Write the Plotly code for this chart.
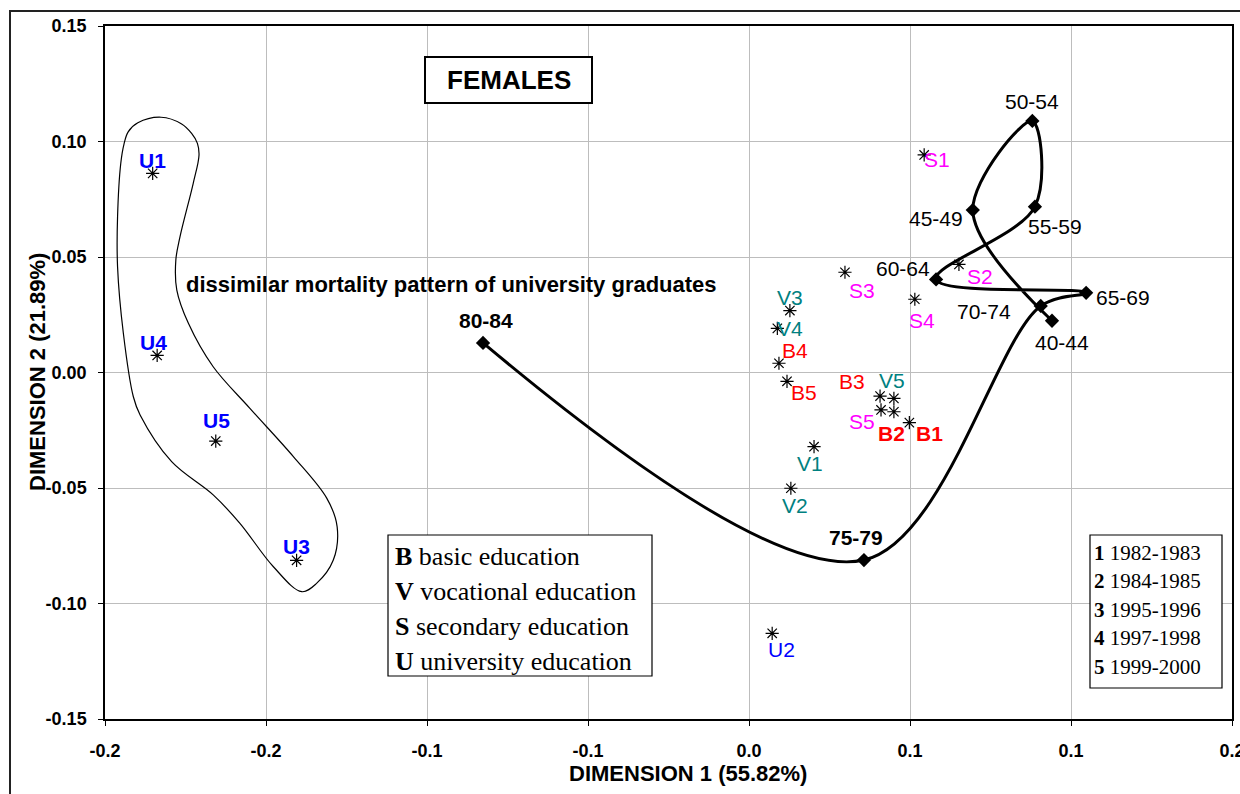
import plotly.graph_objects as go

# ---------------- data ----------------
age_groups = ["40-44", "45-49", "50-54", "55-59", "60-64", "65-69", "70-74", "75-79", "80-84"]
age_dim1 = [0.0941, 0.0695, 0.0880, 0.0888, 0.0581, 0.1047, 0.0906, 0.0357, -0.0826]
age_dim2 = [0.0224, 0.0703, 0.1089, 0.0718, 0.0403, 0.0345, 0.0288, -0.0812, 0.0128]

edu_codes = ["B1", "B2", "B3", "B4", "B5",
             "V1", "V2", "V3", "V4", "V5",
             "S1", "S2", "S3", "S4", "S5",
             "U1", "U2", "U3", "U4", "U5"]
edu_dim1 = [0.0498, 0.0450, 0.0407, 0.0093, 0.0118,
            0.0202, 0.0130, 0.0127, 0.0088, 0.0450,
            0.0544, 0.0652, 0.0298, 0.0515, 0.0410,
            -0.1852, 0.0072, -0.1405, -0.1838, -0.1656]
edu_dim2 = [-0.0217, -0.0170, -0.0102, 0.0040, -0.0038,
            -0.0321, -0.0501, 0.0268, 0.0191, -0.0112,
            0.0942, 0.0468, 0.0434, 0.0317, -0.0162,
            0.0862, -0.1129, -0.0813, 0.0074, -0.0297]

# outline around the university graduates (hand-drawn lasso)
lasso_dim1 = [-0.1826, -0.1898, -0.1928, -0.1941, -0.1951, -0.1961, -0.1961, -0.1943, -0.1912,
              -0.1891, -0.1793, -0.1664, -0.1581, -0.1477, -0.1389, -0.1343, -0.1291, -0.1279,
              -0.1311, -0.1415, -0.1550, -0.1664, -0.1741, -0.1777, -0.1780, -0.1767, -0.1726,
              -0.1708, -0.1713, -0.1731, -0.1762, -0.1826]
lasso_dim2 = [0.1105, 0.1081, 0.1042, 0.0989, 0.0906, 0.0674, 0.0458, 0.0170, -0.0105,
              -0.0184, -0.0386, -0.0530, -0.0653, -0.0841, -0.0949, -0.0913, -0.0812, -0.0668,
              -0.0545, -0.0364, -0.0155, 0.0025, 0.0213, 0.0357, 0.0487, 0.0588, 0.0819,
              0.0942, 0.0992, 0.1035, 0.1076, 0.1105]

x_tickvals = [-0.2, -0.15, -0.1, -0.05, 0.0, 0.05, 0.1, 0.15]
x_ticktext = ["-0.2", "-0.2", "-0.1", "-0.1", "0.0", "0.1", "0.1", "0.2"]
y_tickvals = [0.15, 0.10, 0.05, 0.0, -0.05, -0.10, -0.15]
y_ticktext = ["0.15", "0.10", "0.05", "0.00", "-0.05", "-0.10", "-0.15"]

edu_legend = [("B", "basic education"), ("V", "vocational education"),
              ("S", "secondary education"), ("U", "university education")]
period_legend = [("1", "1982-1983"), ("2", "1984-1985"), ("3", "1995-1996"),
                 ("4", "1997-1998"), ("5", "1999-2000")]

# ---------------- styling ----------------
W, H = 1240, 794
L, R, T, B = 105, 8, 26, 75
XR = [-0.2, 0.15]
YR = [-0.15, 0.15]
SANS = "Liberation Sans, Arial, sans-serif"
SERIF = "Liberation Serif, Times New Roman, serif"

group_color = {"B": "#FF0000", "V": "#008080", "S": "#FF00FF", "U": "#0000FF"}
bold_codes = {"B1", "B2", "U1", "U3", "U4", "U5"}
bold_ages = {"75-79", "80-84"}

# label offsets in pixels (dx right, dy down)
edu_off = {"B1": (20, 11), "B2": (-2, 22), "B3": (-28, -15), "B4": (16, -13), "B5": (17, 11),
           "V1": (-4, 17), "V2": (4, 17), "V3": (0, -13), "V4": (13, 0), "V5": (-2, -18),
           "S1": (13, 5), "S2": (21, 12), "S3": (17, 18), "S4": (7, 21), "S5": (-19, 12),
           "U1": (0, -13), "U2": (9, 16), "U3": (0, -14), "U4": (-4, -13), "U5": (1, -21)}
age_off = {"40-44": (10, 22), "45-49": (-37, 8), "50-54": (0, -19), "55-59": (20, 20),
           "60-64": (-33, -11), "65-69": (37, 5), "70-74": (-57, 6), "75-79": (-8, -23),
           "80-84": (3, -22)}

PW = W - L - R
PH = H - T - B


def px2paper_x(px):
    return (px - L) / PW


def py2paper_y(py):
    return (H - B - py) / PH


fig = go.Figure()

fig.add_trace(go.Scatter(x=lasso_dim1, y=lasso_dim2, mode="lines",
                         line=dict(color="black", width=1.2, shape="spline", smoothing=1.0),
                         hoverinfo="skip", showlegend=False))

fig.add_trace(go.Scatter(x=age_dim1, y=age_dim2, mode="lines+markers",
                         line=dict(color="black", width=3, shape="spline", smoothing=1.0),
                         marker=dict(symbol="diamond", size=11, color="black"),
                         text=age_groups, showlegend=False))

fig.add_trace(go.Scatter(x=edu_dim1, y=edu_dim2, mode="markers",
                         marker=dict(symbol="asterisk-open", size=11, color="black",
                                     line=dict(color="black", width=1.2)),
                         text=edu_codes, showlegend=False))

ann = []
for c, x, y in zip(edu_codes, edu_dim1, edu_dim2):
    dx, dy = edu_off[c]
    txt = f"<b>{c}</b>" if c in bold_codes else c
    ann.append(dict(x=x, y=y, xref="x", yref="y", text=txt, showarrow=False,
                    xshift=dx, yshift=-dy, xanchor="center", yanchor="middle",
                    font=dict(family=SANS, size=21, color=group_color[c[0]])))

for a, x, y in zip(age_groups, age_dim1, age_dim2):
    dx, dy = age_off[a]
    txt = f"<b>{a}</b>" if a in bold_ages else a
    ann.append(dict(x=x, y=y, xref="x", yref="y", text=txt, showarrow=False,
                    xshift=dx, yshift=-dy, xanchor="center", yanchor="middle",
                    font=dict(family=SANS, size=21, color="black")))

# FEMALES box
ann.append(dict(x=px2paper_x(509), y=py2paper_y(80), xref="paper", yref="paper",
                text="<b>FEMALES</b>", showarrow=False, xanchor="center", yanchor="middle",
                font=dict(family=SANS, size=26, color="black")))
# lasso comment
ann.append(dict(x=px2paper_x(184), y=py2paper_y(284), xref="paper", yref="paper",
                text="<b>dissimilar mortality pattern of university graduates</b>",
                showarrow=False, xanchor="left", yanchor="middle",
                font=dict(family=SANS, size=22, color="black")))

# education legend box
for i, (k, v) in enumerate(edu_legend):
    ann.append(dict(x=px2paper_x(393), y=py2paper_y(556 + 35.2 * i), xref="paper", yref="paper",
                    text=f"<b>{k}</b> {v}", showarrow=False, xanchor="left", yanchor="middle",
                    font=dict(family=SERIF, size=26, color="black")))
# period legend box
for i, (k, v) in enumerate(period_legend):
    ann.append(dict(x=px2paper_x(1092), y=py2paper_y(552.5 + 28.6 * i), xref="paper", yref="paper",
                    text=f"<b>{k}</b> {v}", showarrow=False, xanchor="left", yanchor="middle",
                    font=dict(family=SERIF, size=21, color="black")))

# axis titles
ann.append(dict(x=px2paper_x(688), y=py2paper_y(773), xref="paper", yref="paper",
                text="<b>DIMENSION 1 (55.82%)</b>", showarrow=False,
                xanchor="center", yanchor="middle",
                font=dict(family=SANS, size=22, color="black")))
ann.append(dict(x=px2paper_x(37), y=py2paper_y(372), xref="paper", yref="paper",
                text="<b>DIMENSION 2 (21.89%)</b>", showarrow=False, textangle=-90,
                xanchor="center", yanchor="middle",
                font=dict(family=SANS, size=22, color="black")))

shapes = [
    # outer chart border
    dict(type="rect", xref="paper", yref="paper",
         x0=px2paper_x(10), x1=px2paper_x(1300), y0=py2paper_y(900), y1=py2paper_y(11),
         line=dict(color="#222222", width=2), fillcolor="rgba(0,0,0,0)", layer="below"),
    # FEMALES box
    dict(type="rect", xref="paper", yref="paper",
         x0=px2paper_x(425), x1=px2paper_x(592), y0=py2paper_y(103), y1=py2paper_y(57),
         line=dict(color="black", width=2), fillcolor="white", layer="above"),
    # education legend box
    dict(type="rect", xref="paper", yref="paper",
         x0=px2paper_x(388), x1=px2paper_x(652), y0=py2paper_y(676), y1=py2paper_y(535),
         line=dict(color="black", width=1.2), fillcolor="white", layer="above"),
    # period legend box
    dict(type="rect", xref="paper", yref="paper",
         x0=px2paper_x(1090), x1=px2paper_x(1222), y0=py2paper_y(688), y1=py2paper_y(535),
         line=dict(color="black", width=1.2), fillcolor="white", layer="above"),
]

axis_common = dict(showgrid=True, gridcolor="#BDBDBD", gridwidth=1, zeroline=False,
                   showline=True, linecolor="black", linewidth=1.5, mirror=True,
                   ticks="outside", ticklen=5, tickcolor="black", tickwidth=1,
                   ticklabeloverflow="allow", automargin=False,
                   tickfont=dict(family=SANS, size=18, color="black"))

fig.update_layout(
    width=W, height=H,
    margin=dict(l=L, r=R, t=T, b=B, pad=0, autoexpand=False),
    paper_bgcolor="white", plot_bgcolor="white",
    xaxis=dict(range=XR, tickvals=x_tickvals, ticktext=[f"<b>{t}</b>" for t in x_ticktext],
               ticklabelstandoff=10, **axis_common),
    yaxis=dict(range=YR, tickvals=y_tickvals, ticktext=[f"<b>{t}</b>" for t in y_ticktext],
               ticklabelstandoff=8, **axis_common),
    annotations=ann,
    shapes=shapes,
    showlegend=False,
)

fig.write_html("out.html")
